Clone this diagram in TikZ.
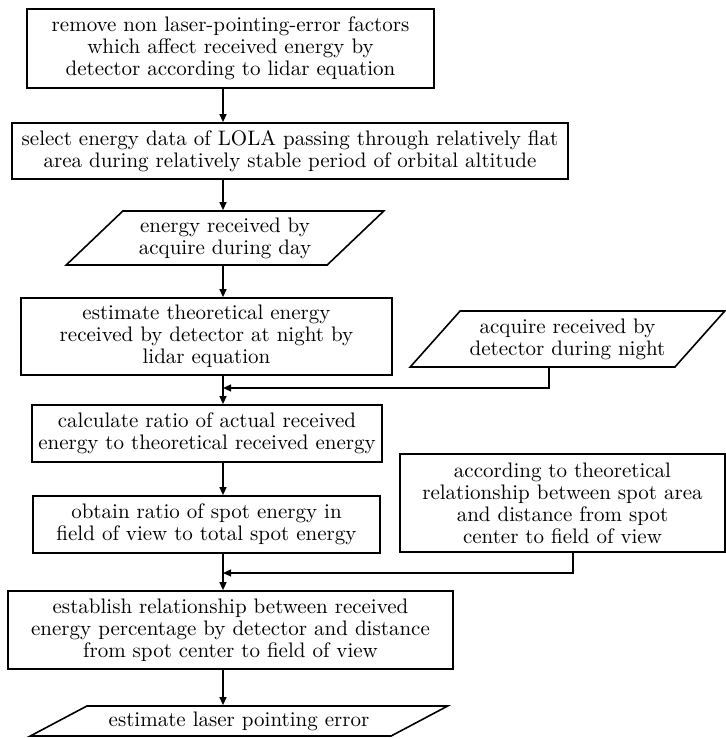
\documentclass[tikz,border=0pt]{standalone}
\usetikzlibrary{shapes.geometric,arrows.meta}

\tikzset{
  procbox/.style={draw, line width=0.8pt, align=center, inner sep=0pt,
    font=\fontsize{10.5}{11}\selectfont},
  iobox/.style 2 args={procbox, trapezium, trapezium stretches=true,
    trapezium left angle=#1, trapezium right angle=#2},
  flow/.style={-{Triangle[length=4pt,width=3.4pt]}, line width=0.8pt}
}

\begin{document}
\begin{tikzpicture}[x=0.5pt,y=-0.5pt]
    \useasboundingbox (0,0) rectangle (726,739);
    \coordinate (spine) at (223,0);

    % main column
    \node[procbox, minimum width=203.5pt, minimum height=39.5pt] (remove) at (230.5,48.5)
      {remove non laser-pointing-error factors\\which affect received energy by\\detector according to lidar equation};
    \node[procbox, minimum width=278pt, minimum height=28pt] (select) at (290,151)
      {select energy data of LOLA passing through relatively flat\\area during relatively stable period of orbital altitude};
    \node[iobox={40.6}{139.4}, minimum width=159pt, minimum height=27pt] (day) at (225,238)
      {energy received by\\acquire during day};
    \node[procbox, minimum width=185.5pt, minimum height=38.5pt] (theo) at (206.5,336.5)
      {estimate theoretical energy\\received by detector at night by\\lidar equation};
    \node[procbox, minimum width=175pt, minimum height=28.5pt] (ratio) at (207,433.5)
      {calculate ratio of actual received\\energy to theoretical received energy};
    \node[procbox, minimum width=173.5pt, minimum height=28.5pt] (spot) at (206.5,524.5)
      {obtain ratio of spot energy in\\field of view to total spot energy};
    \node[procbox, minimum width=222.5pt, minimum height=39pt] (relation) at (230.5,630)
      {establish relationship between received\\energy percentage by detector and distance\\from spot center to field of view};
    \node[iobox={21.3}{158.7}, minimum width=209pt, minimum height=15pt] (pointing) at (239,721)
      {estimate laser pointing error};

    % side inputs
    \node[iobox={42}{138}, minimum width=157.5pt, minimum height=28pt] (night) at (567.5,339)
      {acquire received by\\detector during night};
    \node[procbox, minimum width=162.5pt, minimum height=49pt] (model) at (562.5,503)
      {according to theoretical\\relationship between spot area\\and distance from spot\\center to field of view};

    \coordinate (joinA) at (223,388);
    \coordinate (joinB) at (223,573);

    \draw[flow] (remove.south -| spine) -- (select.north -| spine);
    \draw[flow] (select.south -| spine) -- (day.north -| spine);
    \draw[flow] (day.south -| spine) -- (theo.north -| spine);
    \draw[flow] (theo.south -| spine) -- (ratio.north -| spine);
    \draw[flow] (ratio.south -| spine) -- (spot.north -| spine);
    \draw[flow] (spot.south -| spine) -- (relation.north -| spine);
    \draw[flow] (relation.south -| spine) -- (pointing.north -| spine);
    \draw[flow] ([xshift=-9.25pt]night.south) |- (joinA);
    \draw[flow] ([xshift=5.25pt]model.south) |- (joinB);
\end{tikzpicture}
\end{document}
